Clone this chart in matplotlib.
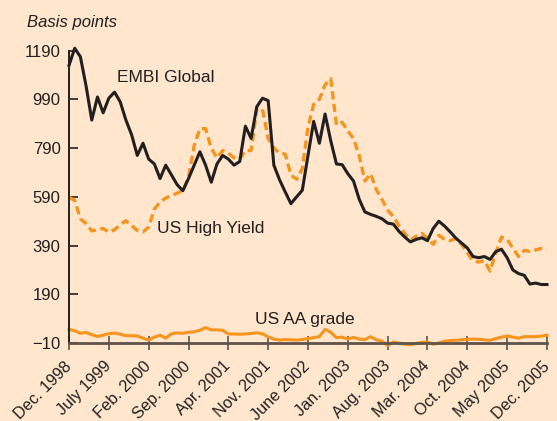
import numpy as np
import matplotlib
matplotlib.use('Agg')
import matplotlib.pyplot as plt

plt.rcParams['font.family'] = ['Liberation Sans', 'DejaVu Sans']
plt.rcParams['lines.scale_dashes'] = False

# Spreads in basis points, monthly, Dec. 1998 - Dec. 2005
embi = [1130, 1200, 1165, 1045, 905, 1000, 935, 995, 1020, 980,
        905, 845, 760, 810, 745, 725, 665, 720, 680, 640,
        615, 665, 720, 775, 720, 650, 725, 760, 745, 720,
        735, 880, 830, 960, 995, 985, 720, 660, 610, 562,
        590, 617, 760, 900, 810, 930, 820, 725, 722, 685,
        655, 580, 528, 518, 510, 500, 482, 478, 448, 425,
        405, 415, 422, 410, 460, 490, 470, 446, 420, 400,
        380, 345, 340, 345, 333, 365, 375, 340, 290, 275,
        268, 232, 236, 230, 230]
high_yield = [589, 575, 500, 480, 450, 455, 460, 445, 455, 475,
              492, 472, 452, 446, 466, 540, 568, 585, 595, 605,
              615, 670, 800, 870, 870, 790, 750, 780, 770, 750,
              745, 780, 780, 950, 950, 830, 790, 770, 765, 680,
              662, 705, 876, 970, 990, 1050, 1075, 885, 896, 860,
              830, 760, 655, 685, 620, 580, 535, 510, 470, 440,
              412, 428, 440, 420, 395, 432, 416, 410, 419, 395,
              360, 328, 322, 328, 285, 360, 425, 415, 380, 345,
              370, 366, 372, 378, 378]
aa_grade = [46, 40, 30, 33, 24, 17, 22, 28, 31, 26,
            20, 20, 19, 10, 2, 14, 22, 10, 28, 31,
            30, 34, 36, 42, 53, 44, 44, 42, 27, 27,
            26, 27, 29, 32, 28, 15, 6, 2, 4, 3,
            2, 4, 8, 12, 16, 46, 34, 12, 14, 6,
            13, 6, 4, 16, 3, -2, -20, -6, -10, -15,
            -17, -12, -7, -6, -15, -10, -3, 0, 1, 3,
            5, 6, 5, 3, 1, 8, 14, 19, 14, 10,
            16, 16, 16, 18, 22]

tick_labels = ['Dec. 1998', 'July 1999', 'Feb. 2000', 'Sep. 2000', 'Apr. 2001',
               'Nov. 2001', 'June 2002', 'Jan. 2003', 'Aug. 2003', 'Mar. 2004',
               'Oct. 2004', 'May 2005', 'Dec. 2005']
y_ticks = [-10, 190, 390, 590, 790, 990, 1190]

bg = '#FFE6CD'
orange = '#F7941D'
dark = '#231F20'
axis_grey = '#5E544C'

months = np.arange(len(embi))

fig = plt.figure(figsize=(5.57, 4.21), dpi=100, facecolor=bg)
ax = fig.add_axes([0.1239, 0.1853, 0.8581, 0.6943], facecolor=bg)

ax.plot(months, aa_grade, color=orange, lw=2.2, clip_on=False)
ax.plot(months, high_yield, color=orange, lw=2.4, dashes=(6, 3.2), clip_on=False)
ax.plot(months, embi, color=dark, lw=2.2, clip_on=False)

ax.set_xlim(0, 84)
ax.set_ylim(-10, 1190)
ax.set_yticks(y_ticks)
ax.set_yticklabels(['\u221210' if v < 0 else str(v) for v in y_ticks])
ax.set_xticks(np.arange(0, 85, 7))
ax.set_xticklabels(tick_labels, rotation=45, ha='right', va='center',
                   rotation_mode='anchor')

for s in ['top', 'right']:
    ax.spines[s].set_visible(False)
ax.spines['left'].set_color(dark)
ax.spines['left'].set_linewidth(1.4)
ax.spines['bottom'].set_color(axis_grey)
ax.spines['bottom'].set_linewidth(2)

ax.tick_params(axis='y', direction='in', length=6.5, width=1.2, color=dark,
               labelsize=12, labelcolor=dark, pad=6)
ax.tick_params(axis='x', direction='inout', length=10, width=1.2, color=axis_grey,
               labelsize=11.7, labelcolor=dark, pad=10)

ax.text(8.4, 1080, 'EMBI Global', fontsize=12.5, color=dark, va='center')
ax.text(15.5, 461, 'US High Yield', fontsize=12.5, color=dark, va='center')
ax.text(32.7, 88, 'US AA grade', fontsize=12.5, color=dark, va='center')
fig.text(27 / 557, 1 - 22.5 / 421, 'Basis points', fontsize=12, style='italic',
         color=dark, va='center')

fig.savefig('out.png', dpi=100, facecolor=bg)
